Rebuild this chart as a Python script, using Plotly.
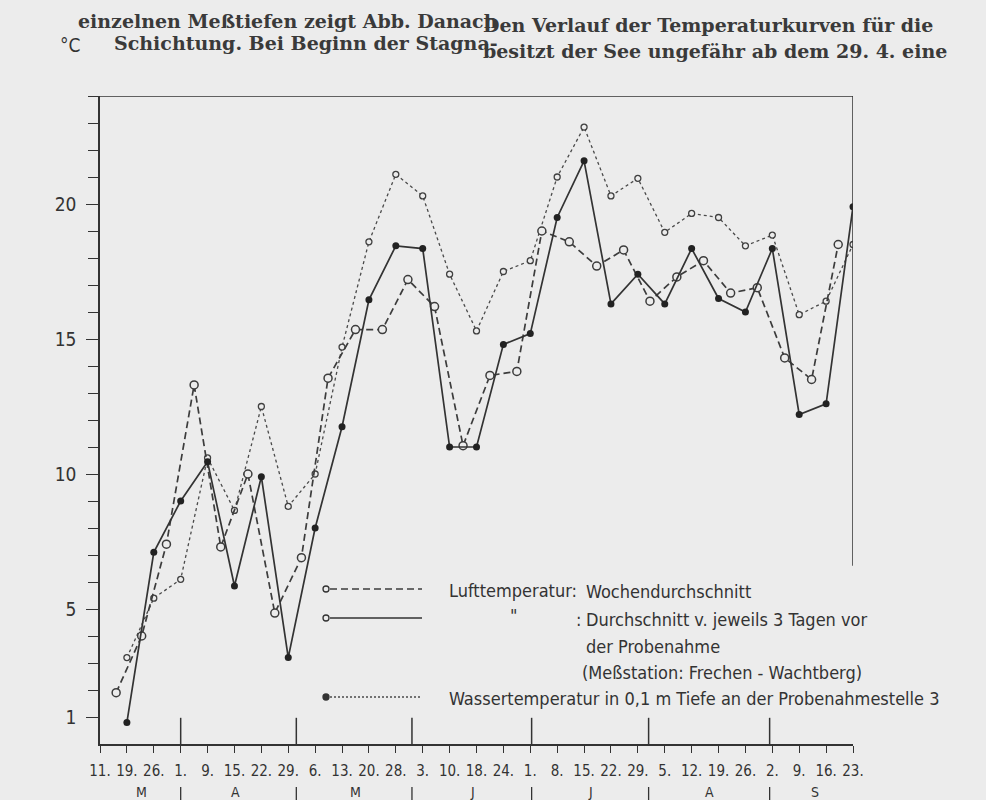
import plotly.graph_objects as go

# ---- data ----
tick_labels = ["11.", "19.", "26.", "1.", "9.", "15.", "22.", "29.", "6.", "13.", "20.", "28.",
               "3.", "10.", "18.", "24.", "1.", "8.", "15.", "22.", "29.", "5.", "12.", "19.", "26.",
               "2.", "9.", "16.", "23."]
tick_pos = list(range(len(tick_labels)))

months = ["M", "A", "M", "J", "J", "A", "S"]
month_label_pos = [1.55, 5.05, 9.5, 13.85, 18.25, 22.65, 26.6]
month_break_pos = [3.0, 7.3, 11.6, 16.05, 20.4, 24.9]

# Lufttemperatur: Durchschnitt v. jeweils 3 Tagen vor der Probenahme (solid, filled dots)
air3_pos = list(range(1, 29))
air3_val = [0.8, 7.1, 9.0, 10.45, 5.85, 9.9, 3.2, 8.0, 11.75, 16.45, 18.45, 18.35, 11.0, 11.0,
            14.8, 15.2, 19.5, 21.6, 16.3, 17.4, 16.3, 18.35, 16.5, 16.0, 18.35, 12.2, 12.6, 19.9]

# Lufttemperatur: Wochendurchschnitt (dashed, open circles)
airw_pos = [0.6, 1.55, 2.47, 3.5, 4.49, 5.5, 6.5, 7.49, 8.48, 9.5, 10.5, 11.45, 12.44, 13.5,
            14.5, 15.5, 16.43, 17.45, 18.47, 19.47, 20.45, 21.45, 22.44, 23.45, 24.44, 25.46,
            26.46, 27.45]
airw_val = [1.9, 4.0, 7.4, 13.3, 7.3, 10.0, 4.85, 6.9, 13.55, 15.35, 15.35, 17.2, 16.2, 11.05,
            13.65, 13.8, 19.0, 18.6, 17.7, 18.3, 16.4, 17.3, 17.9, 16.7, 16.9, 14.3, 13.5, 18.5]

# Wassertemperatur in 0,1 m Tiefe (fine dashes, small circles)
water_pos = list(range(1, 29))
water_val = [3.2, 5.4, 6.1, 10.6, 8.65, 12.5, 8.8, 10.0, 14.7, 18.6, 21.1, 20.3, 17.4, 15.3,
             17.5, 17.9, 21.0, 22.85, 20.3, 20.95, 18.95, 19.65, 19.5, 18.45, 18.85, 15.9,
             16.4, 18.5]

y_ticks = [1, 5, 10, 15, 20]

# ---- layout constants ----
W, H = 986, 800
L, R, T, B = 100, 133, 96, 56
BG = "#ececec"
INK = "#333333"
NARROW = "Liberation Sans Narrow, DejaVu Sans Condensed, Roboto Condensed, Arial Narrow, sans-serif"
SERIF = "DejaVu Serif, Liberation Serif, serif"


def px(x):
    return (x - L) / (W - L - R)


def py(y):
    return (H - B - y) / (H - T - B)


fig = go.Figure()
fig.add_trace(go.Scatter(x=water_pos, y=water_val, mode="lines+markers",
                         line=dict(color="#4a4a4a", width=1.3, dash="3px,3px"),
                         marker=dict(symbol="circle", size=6, color=BG,
                                     line=dict(color="#404040", width=1.3)),
                         showlegend=False))
fig.add_trace(go.Scatter(x=airw_pos, y=airw_val, mode="lines+markers",
                         line=dict(color="#3c3c3c", width=1.7, dash="7px,4px"),
                         marker=dict(symbol="circle", size=8, color=BG,
                                     line=dict(color="#3c3c3c", width=1.5)),
                         showlegend=False))
fig.add_trace(go.Scatter(x=air3_pos, y=air3_val, mode="lines+markers",
                         line=dict(color="#333333", width=1.7),
                         marker=dict(symbol="circle", size=7, color="#222222"),
                         showlegend=False))

shapes = []
# frame top and right
shapes.append(dict(type="line", xref="x", yref="y", x0=0, x1=28, y0=24, y1=24,
                   line=dict(color=INK, width=1.5)))
shapes.append(dict(type="line", xref="x", yref="y", x0=28, x1=28, y0=24, y1=6.6,
                   line=dict(color=INK, width=1.5)))
# month separators
for m in month_break_pos:
    shapes.append(dict(type="line", xref="x", yref="y", x0=m, x1=m, y0=0, y1=0.97,
                       line=dict(color=INK, width=1.5)))
    shapes.append(dict(type="line", xref="x", yref="paper", x0=m, x1=m,
                       y0=py(787), y1=py(800), line=dict(color=INK, width=1.3)))

# legend samples
shapes.append(dict(type="line", xref="paper", yref="paper", x0=px(330), x1=px(422),
                   y0=py(589), y1=py(589), line=dict(color="#3c3c3c", width=1.6, dash="7px,4px")))
shapes.append(dict(type="line", xref="paper", yref="paper", x0=px(330), x1=px(422),
                   y0=py(618), y1=py(618), line=dict(color="#333333", width=1.6)))
shapes.append(dict(type="line", xref="paper", yref="paper", x0=px(330), x1=px(420),
                   y0=py(697), y1=py(697), line=dict(color="#4a4a4a", width=1.3, dash="2px,2px")))
for yy, filled in [(589, False), (618, False), (697, True)]:
    shapes.append(dict(type="circle", xref="paper", yref="paper", xsizemode="pixel",
                       ysizemode="pixel", xanchor=px(326), yanchor=py(yy),
                       x0=-3, x1=3, y0=-3, y1=3,
                       fillcolor="#333333" if filled else BG,
                       line=dict(color="#333333", width=1.3)))

ann = []


def text(x, y, s, size=18, anchor="left", font=NARROW, color=INK, bold=False):
    ann.append(dict(x=px(x), y=py(y), xref="paper", yref="paper", text=s, showarrow=False,
                    xanchor=anchor, yanchor="middle",
                    font=dict(family=font, size=size, color=color,
                              weight="bold" if bold else "normal")))


text(447, 590, "Lufttemperatur:")
text(584, 591, "Wochendurchschnitt")
text(508, 615, "\"")
text(574, 619, ":")
text(584, 619, "Durchschnitt v. jeweils 3 Tagen vor")
text(584, 646, "der Probenahme")
text(580, 672, "(Meßstation: Frechen - Wachtberg)")
text(447, 698, "Wassertemperatur in 0,1 m Tiefe an der Probenahmestelle 3")

# month letters
for lab, pos in zip(months, month_label_pos):
    ann.append(dict(x=pos, y=py(792), xref="x", yref="paper", text=lab, showarrow=False,
                    xanchor="center", yanchor="middle",
                    font=dict(family=NARROW, size=14, color=INK)))

# unit label
text(58, 45, "°C", size=19)

# page text at the top (scan)
text(500, 21, "einzelnen Meßtiefen zeigt Abb. Danach", size=19, anchor="right", font=SERIF,
     color="#3a3a3a", bold=True)
text(500, 43, "Schichtung. Bei Beginn der Stagna-", size=19, anchor="right",
     font=SERIF, color="#3a3a3a", bold=True)
text(481, 25, "Den Verlauf der Temperaturkurven für die", size=19, font=SERIF,
     color="#3a3a3a", bold=True)
text(481, 51, "besitzt der See ungefähr ab dem 29. 4. eine", size=19, font=SERIF,
     color="#3a3a3a", bold=True)

fig.update_layout(
    width=W, height=H, margin=dict(l=L, r=R, t=T, b=B),
    paper_bgcolor=BG, plot_bgcolor=BG, showlegend=False,
    shapes=shapes, annotations=ann,
    xaxis=dict(range=[0, 28], tickmode="array", tickvals=tick_pos, ticktext=tick_labels,
               showgrid=False, zeroline=False, showline=True, linecolor=INK, linewidth=1.5,
               ticks="outside", ticklen=7, tickwidth=1.3, tickcolor=INK,
               ticklabelstandoff=5,
               tickfont=dict(family=NARROW, size=15, color=INK)),
    yaxis=dict(range=[0, 24], tickmode="array", tickvals=y_ticks,
               ticktext=[str(v) for v in y_ticks],
               showgrid=False, zeroline=False, showline=True, linecolor=INK, linewidth=1.5,
               ticks="outside", ticklen=12, tickwidth=1.3, tickcolor=INK,
               ticklabelstandoff=6,
               minor=dict(tickmode="array", tickvals=list(range(1, 25)), ticks="outside",
                          ticklen=10, tickwidth=1.3, tickcolor=INK),
               tickfont=dict(family=NARROW, size=19, color=INK)),
)

fig.write_html("out.html", config={"displayModeBar": False},
               post_script="document.body.style.margin='0px';"
                           "document.body.style.background='#ececec';")
